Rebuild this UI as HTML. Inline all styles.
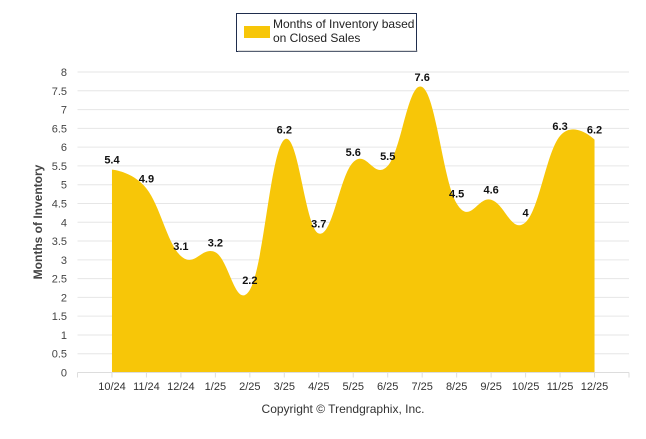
<!DOCTYPE html>
<html><head><meta charset="utf-8"><style>
body{margin:0;background:#fff;}
svg text{font-family:"Liberation Sans",Arial,sans-serif;}
</style></head><body>
<svg width="646" height="434" viewBox="0 0 646 434">
<g id="grid"></g>
<g id="area"></g>
<g id="labels"></g>
<g id="axes"></g>
<g>
<rect x="236.5" y="13.5" width="180" height="38" fill="#fff" stroke="#1f2d4d" stroke-width="1"/>
<rect x="238" y="50" width="180" height="2" fill="#aaa" opacity="0.4"/>
<rect x="244" y="26" width="26" height="12" fill="#f7c608"/>
<text x="273" y="28" font-size="12" fill="#222">Months of Inventory based</text>
<text x="273" y="42" font-size="12" fill="#222">on Closed Sales</text>
</g>
<text transform="translate(42,222) rotate(-90)" text-anchor="middle" font-size="12" font-weight="bold" fill="#444">Months of Inventory</text>
<text x="343" y="413" text-anchor="middle" font-size="12" fill="#333">Copyright © Trendgraphix, Inc.</text>
</svg>
<script>
const categories=["10/24","11/24","12/24","1/25","2/25","3/25","4/25","5/25","6/25","7/25","8/25","9/25","10/25","11/25","12/25"];
const values=[5.4,4.9,3.1,3.2,2.2,6.2,3.7,5.6,5.5,7.6,4.5,4.6,4,6.3,6.2];
const yTicks=[0,0.5,1,1.5,2,2.5,3,3.5,4,4.5,5,5.5,6,6.5,7,7.5,8];
const NS="http://www.w3.org/2000/svg";
const L=77.5,R=629,T=72,B=372.5,yMax=8;
const step=(R-L)/(categories.length+1);
const xS=i=>L+step*(i+1);
const yS=v=>B-(v/yMax)*(B-T);
function mk(t,a,p){const e=document.createElementNS(NS,t);for(const k in a)e.setAttribute(k,a[k]);p.appendChild(e);return e;}
const grid=document.getElementById('grid'),axes=document.getElementById('axes'),lab=document.getElementById('labels'),area=document.getElementById('area');
yTicks.forEach(v=>{
 const l=mk('line',{x1:L,x2:R,y1:yS(v),y2:yS(v),stroke:'#e6e6e6','stroke-width':1},grid);
 
 
 const t=mk('text',{x:67,y:yS(v)+4,'text-anchor':'end','font-size':11,fill:'#444'},axes);
 t.textContent=v;
 
 
});
mk('line',{x1:L,x2:R,y1:B,y2:B,stroke:'#ddd'},axes);
for(let i=0;i<=categories.length+1;i++){mk('line',{x1:L+step*i,x2:L+step*i,y1:B,y2:B+5,stroke:'#ddd'},axes);}
categories.forEach((c,i)=>{
 const t=mk('text',{x:xS(i),y:390,'text-anchor':'middle','font-size':11,fill:'#333'},axes);
 t.textContent=c;
 
 
});
// spline (highcharts-like)
const pts=values.map((v,i)=>[xS(i),yS(v)]);
let d=`M${pts[0][0]},${B} L${pts[0][0]},${pts[0][1]}`;
const sm=1.5;
function ctrl(i){ // returns [leftCtrl,rightCtrl] for point i
 if(i===0||i===pts.length-1)return [pts[i],pts[i]];
 const p=pts[i-1],c=pts[i],n=pts[i+1];
 const lx=(sm*c[0]+p[0])/(sm+1),ly=(sm*c[1]+p[1])/(sm+1);
 const rx=(sm*c[0]+n[0])/(sm+1),ry=(sm*c[1]+n[1])/(sm+1);
 let cor=0; if(rx!==lx)cor=((ry-ly)*(rx-c[0]))/(rx-lx)+c[1]-ry;
 return [[lx,ly+cor],[rx,ry+cor]];
}
for(let i=1;i<pts.length;i++){
 const a=ctrl(i-1)[1],b=ctrl(i)[0];
 d+=` C${a[0]},${a[1]} ${b[0]},${b[1]} ${pts[i][0]},${pts[i][1]}`;
}
d+=` L${pts[pts.length-1][0]},${B} Z`;
const ar=mk('path',{d:d,fill:'#f7c608'},area);


values.forEach((v,i)=>{
 const t=mk('text',{x:xS(i),y:yS(v)-6,'text-anchor':'middle','font-size':11,'font-weight':'bold',fill:'#111'},lab);
 t.textContent=v;
 
 
});
</script>
</body></html>
